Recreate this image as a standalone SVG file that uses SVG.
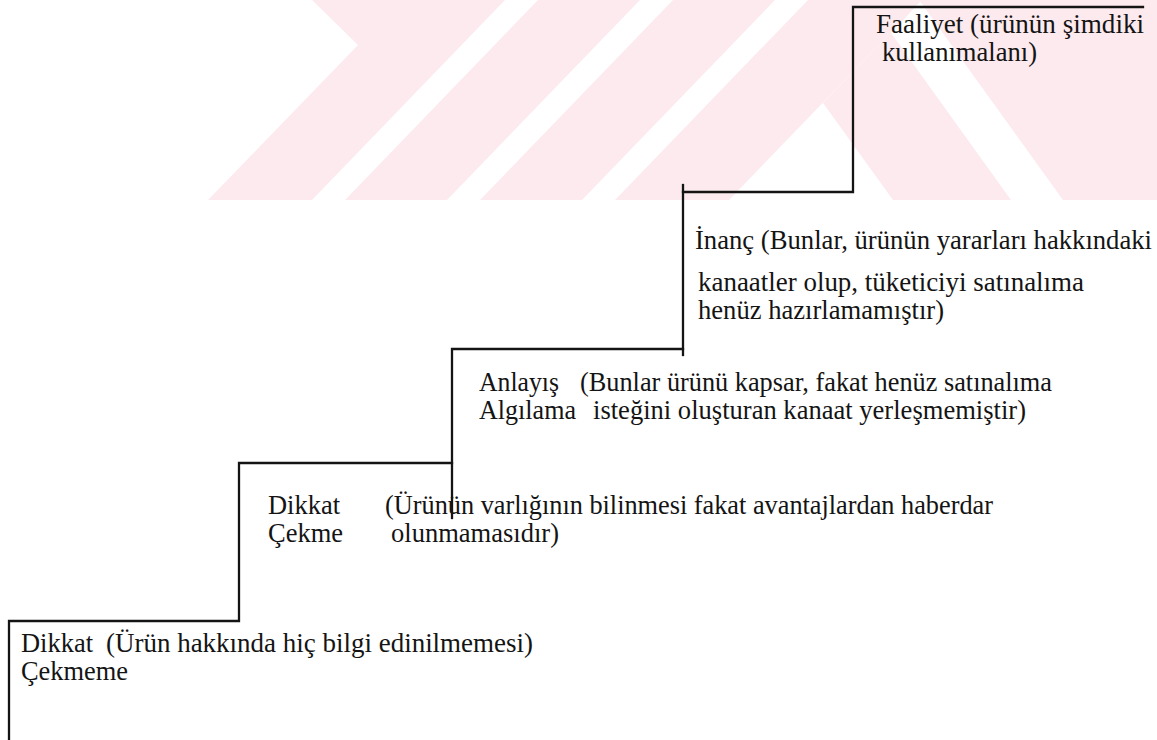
<svg xmlns="http://www.w3.org/2000/svg" width="1157" height="740" viewBox="0 0 1157 740">
<style>
.wm{fill:#fdeaee;stroke:none}
.ln{stroke:#141414;stroke-width:2.3;fill:none;stroke-linecap:square}
.t{font-size:26.5px;fill:#141414}
</style>
<rect width="1157" height="740" fill="#ffffff"/>
<g id="watermark">
<polygon class="wm" points="312,0 505,0 312,200 208,200 358,45"/>
<polygon class="wm" points="538,0 640,0 447,200 345,200"/>
<polygon class="wm" points="673,0 775,0 582,200 480,200"/>
<polygon class="wm" points="808,0 922,0 823,103 893,200 1011,200 891,33 922,0 1157,0 1157,200 1063,200 919,0 922,0 729,200 615,200"/>
</g>
<g id="connectors">
<path class="ln" d="M9,740 V621 H239 V463 H452 V349 H683 V192 H853 V7 H1143"/>
<path class="ln" d="M452,463 V518"/>
<path class="ln" d="M683,349 V355"/>
<path class="ln" d="M683,192 V185"/>
</g>
<g id="step1" class="t" font-family="Liberation Serif, Tinos, Times New Roman, Times, Noto Serif, DejaVu Serif, FreeSerif, serif">
<text x="21" y="652" textLength="72" lengthAdjust="spacingAndGlyphs">Dikkat</text>
<text x="106" y="652" textLength="427" lengthAdjust="spacingAndGlyphs">(Ürün hakkında hiç bilgi edinilmemesi)</text>
<text x="21" y="680" textLength="107" lengthAdjust="spacingAndGlyphs">Çekmeme</text>
</g>
<g id="step2" class="t" font-family="Liberation Serif, Tinos, Times New Roman, Times, Noto Serif, DejaVu Serif, FreeSerif, serif">
<text x="268" y="514" textLength="72" lengthAdjust="spacingAndGlyphs">Dikkat</text>
<text x="385" y="514" textLength="608" lengthAdjust="spacingAndGlyphs">(Ürünün varlığının bilinmesi fakat avantajlardan haberdar</text>
<text x="268" y="542" textLength="75" lengthAdjust="spacingAndGlyphs">Çekme</text>
<text x="391" y="542" textLength="168" lengthAdjust="spacingAndGlyphs">olunmamasıdır)</text>
</g>
<g id="step3" class="t" font-family="Liberation Serif, Tinos, Times New Roman, Times, Noto Serif, DejaVu Serif, FreeSerif, serif">
<text x="479" y="391" textLength="80" lengthAdjust="spacingAndGlyphs">Anlayış</text>
<text x="580" y="391" textLength="472" lengthAdjust="spacingAndGlyphs">(Bunlar ürünü kapsar, fakat henüz satınalıma</text>
<text x="479" y="419" textLength="97" lengthAdjust="spacingAndGlyphs">Algılama</text>
<text x="593" y="419" textLength="433" lengthAdjust="spacingAndGlyphs">isteğini oluşturan kanaat yerleşmemiştir)</text>
</g>
<g id="step4" class="t" font-family="Liberation Serif, Tinos, Times New Roman, Times, Noto Serif, DejaVu Serif, FreeSerif, serif">
<text x="695" y="249" textLength="457" lengthAdjust="spacingAndGlyphs">İnanç (Bunlar, ürünün yararları hakkındaki</text>
<text x="698" y="291" textLength="386" lengthAdjust="spacingAndGlyphs">kanaatler olup, tüketiciyi satınalıma</text>
<text x="698" y="319" textLength="246" lengthAdjust="spacingAndGlyphs">henüz hazırlamamıştır)</text>
</g>
<g id="step5" class="t" font-family="Liberation Serif, Tinos, Times New Roman, Times, Noto Serif, DejaVu Serif, FreeSerif, serif">
<text x="876" y="33" textLength="268" lengthAdjust="spacingAndGlyphs">Faaliyet (ürünün şimdiki</text>
<text x="882" y="61" textLength="155" lengthAdjust="spacingAndGlyphs">kullanımalanı)</text>
</g>
</svg>
